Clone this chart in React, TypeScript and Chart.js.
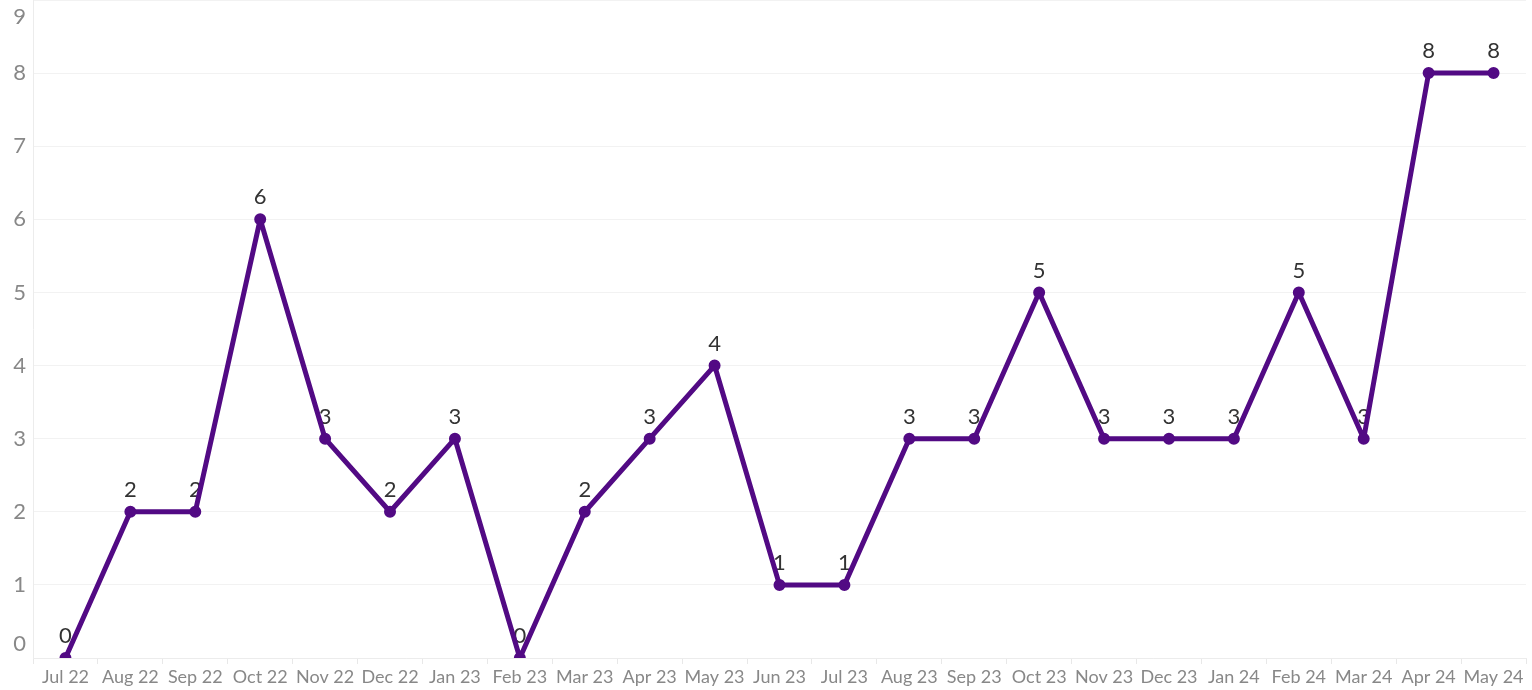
import React, { useEffect, useRef } from "react";
import { Chart, registerables } from "chart.js";

Chart.register(...registerables);

const months = [
  "Jul 22", "Aug 22", "Sep 22", "Oct 22", "Nov 22", "Dec 22", "Jan 23", "Feb 23",
  "Mar 23", "Apr 23", "May 23", "Jun 23", "Jul 23", "Aug 23", "Sep 23", "Oct 23",
  "Nov 23", "Dec 23", "Jan 24", "Feb 24", "Mar 24", "Apr 24", "May 24",
];
const counts = [0, 2, 2, 6, 3, 2, 3, 0, 2, 3, 4, 1, 1, 3, 3, 5, 3, 3, 3, 5, 3, 8, 8];
const yTicks = [0, 1, 2, 3, 4, 5, 6, 7, 8, 9];

const FONT = "Lato, 'Open Sans', sans-serif";

const labelsPlugin = {
  id: "customLabels",
  beforeDatasetsDraw(chart: any) {
    const ctx = chart.ctx;
    const meta = chart.getDatasetMeta(0);
    ctx.save();
    ctx.font = `22px ${FONT}`;
    ctx.fillStyle = "#333333";
    ctx.textAlign = "center";
    ctx.textBaseline = "middle";
    meta.data.forEach((pt: any, i: number) => {
      ctx.fillText(String(counts[i]), pt.x, pt.y - 22);
    });
    ctx.restore();
  },
  afterDraw(chart: any) {
    const ctx = chart.ctx;
    const y = chart.scales.y;
    ctx.save();
    ctx.font = `22px ${FONT}`;
    ctx.fillStyle = "#888888";
    ctx.textAlign = "right";
    ctx.textBaseline = "middle";
    yTicks.forEach((v, i) => {
      let py = y.getPixelForValue(v);
      if (i === 0) py -= 14;
      if (i === yTicks.length - 1) py += 17;
      ctx.fillText(String(v), 26, py);
    });
    ctx.restore();
  },
};

export default function App() {
  const ref = useRef<HTMLCanvasElement>(null);
  useEffect(() => {
    document.body.style.margin = "0";
    const chart = new Chart(ref.current!, {
      type: "line",
      data: {
        labels: months,
        datasets: [
          {
            data: counts,
            borderColor: "#520a84",
            backgroundColor: "#520a84",
            borderWidth: 5,
            pointRadius: 3.5,
            pointHoverRadius: 3.5,
            tension: 0,
            borderJoinStyle: "round",
            borderCapStyle: "round",
          },
        ],
      },
      options: {
        animation: false,
        responsive: false,
        maintainAspectRatio: false,
        layout: { autoPadding: false, padding: { left: 0, right: 6, top: 0, bottom: 0 } },
        plugins: { legend: { display: false }, tooltip: { enabled: false } },
        scales: {
          x: {
            offset: true,
            grid: {
              offset: true,
              drawOnChartArea: false,
              drawTicks: true,
              tickLength: 6,
              color: "#e8e8e8",
            },
            border: { display: true, color: "#ececec" },
            ticks: {
              autoSkip: false,
              maxRotation: 0,
              padding: 2,
              color: "#888888",
              font: { family: FONT, size: 18 },
            },
            afterFit(scale: any) {
              scale.height = 32;
            },
          },
          y: {
            min: 0,
            max: 9,
            grid: { color: "#f2f2f2", drawTicks: false },
            border: { display: true, color: "#ececec" },
            ticks: { display: false, stepSize: 1 },
            afterFit(scale: any) {
              scale.width = 33;
            },
          },
        },
      },
      plugins: [labelsPlugin],
    });
    return () => chart.destroy();
  }, []);
  return (
    <div style={{ width: 1532, height: 690 }}>
      <canvas ref={ref} width={1532} height={690} style={{ display: "block" }} />
    </div>
  );
}
